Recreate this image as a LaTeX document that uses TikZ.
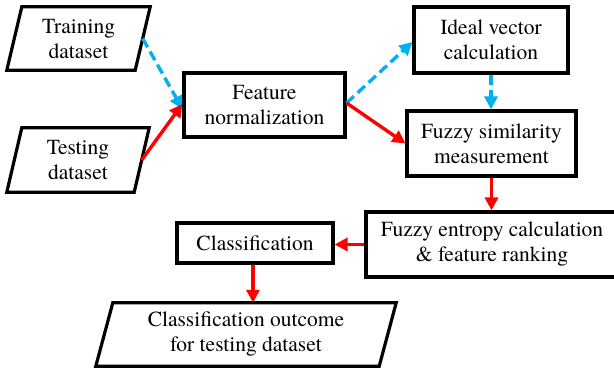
\documentclass[tikz,border=0pt]{standalone}
\usepackage{fontspec}
\setmainfont{texgyretermes}[Extension=.otf, UprightFont=*-regular, BoldFont=*-bold, ItalicFont=*-italic, BoldItalicFont=*-bolditalic]
\usetikzlibrary{arrows.meta,calc}
\definecolor{cyanarrow}{RGB}{0,176,240}
\definecolor{redarrow}{RGB}{255,0,0}
\tikzset{
  txt/.style={font=\rmfamily\fontsize{21.5}{25}\selectfont, align=center, inner sep=0pt},
  boxnode/.style={txt, draw=black, line width=3.2pt},
  para/.style={draw=black, line width=3.2pt, line join=miter},
  redarr/.style={draw=redarrow, line width=3.4pt, -{Triangle[length=13pt,width=13pt]}},
  cyanarr/.style={draw=cyanarrow, line width=3.4pt, dash pattern=on 10pt off 5pt, -{Triangle[length=13pt,width=13pt]}},
}
\begin{document}
\begin{tikzpicture}[x=1pt,y=-1pt]
\useasboundingbox (0,0) rectangle (614,369);
% parallelogram input/output nodes
\node[txt, minimum width=128pt, minimum height=63pt] (train) at (78.5,38.5) {Training\\dataset};
\draw[para] ([xshift=-7.5pt]train.south west) -- ([xshift=-7.5pt]train.south east) -- ([xshift=7.5pt]train.north east) -- ([xshift=7.5pt]train.north west) -- cycle;
\node[txt, minimum width=127pt, minimum height=64pt] (test) at (78,160) {Testing\\dataset};
\draw[para] ([xshift=-7.5pt]test.south west) -- ([xshift=-7.5pt]test.south east) -- ([xshift=7.5pt]test.north east) -- ([xshift=7.5pt]test.north west) -- cycle;
\node[txt, minimum width=283pt, minimum height=63pt] (out) at (246,334.5) {Classification outcome\\for testing dataset};
\draw[para] ([xshift=-8.5pt]out.south west) -- ([xshift=-8.5pt]out.south east) -- ([xshift=8.5pt]out.north east) -- ([xshift=8.5pt]out.north west) -- cycle;
% process boxes
\node[boxnode, minimum width=161pt, minimum height=64pt] (fn) at (264.5,105) {Feature\\normalization};
\node[boxnode, minimum width=154pt, minimum height=66pt] (ideal) at (491,40) {Ideal vector\\calculation};
\node[boxnode, minimum width=169pt, minimum height=65pt] (fsm) at (491.5,143.5) {Fuzzy similarity\\measurement};
\node[boxnode, minimum width=252pt, minimum height=65pt] (fe) at (492,244.5) {Fuzzy entropy calculation\\\& feature ranking};
\node[boxnode, minimum width=156pt, minimum height=40pt] (cls) at (255,243) {Classification};
% connectors
\draw[cyanarr] (train.east) -- ([yshift=-4pt]fn.west);
\draw[redarr] (test.east) -- ([yshift=1pt]fn.west);
\draw[cyanarr] ([yshift=2pt]fn.east) -- ([yshift=-2pt]ideal.west);
\draw[redarr] ([yshift=2pt]fn.east) -- (fsm.west);
\draw[cyanarr] (ideal.south) -- (ideal.south |- fsm.north);
\draw[redarr] (fsm.south) -- (fsm.south |- fe.north);
\draw[redarr] (fe.west) -- (fe.west -| cls.east);
\draw[redarr] ([xshift=-2pt]cls.south) -- ([xshift=-2pt]cls.south |- out.north);
\end{tikzpicture}
\end{document}
